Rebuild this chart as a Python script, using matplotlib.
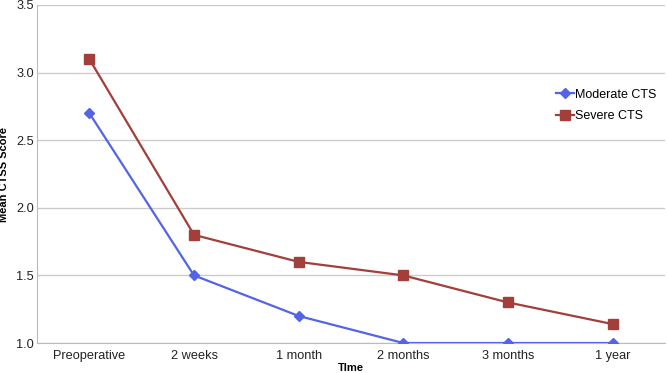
import matplotlib
matplotlib.use("Agg")
import matplotlib.pyplot as plt

categories = ["Preoperative", "2 weeks", "1 month", "2 months", "3 months", "1 year"]
moderate = [2.7, 1.5, 1.2, 1.0, 1.0, 1.0]
severe = [3.1, 1.8, 1.6, 1.5, 1.3, 1.14]
yticks = [1.0, 1.5, 2.0, 2.5, 3.0, 3.5]

plt.rcParams['font.family'] = ['Liberation Sans', 'DejaVu Sans']

fig = plt.figure(figsize=(6.67, 3.73), dpi=100)
ax = fig.add_axes([0.0555, 0.0804, 0.9415, 0.9062])

x = list(range(len(categories)))
ax.plot(x, moderate, color="#5464E6", marker="D", markersize=5, linewidth=1.6,
        label="Moderate CTS", zorder=3)
ax.plot(x, severe, color="#A23F3A", marker="s", markersize=6.5, linewidth=1.6,
        label="Severe CTS", zorder=3)

ax.set_xlim(-0.5, len(categories) - 0.5)
ax.set_ylim(1.0, 3.5)
ax.set_yticks(yticks)
ax.set_yticklabels([f"{v:.1f}" for v in yticks])
ax.set_xticks(x)
ax.set_xticklabels(categories)
ax.tick_params(axis="both", length=0, labelsize=9.2, colors="#222222")
ax.tick_params(axis="x", pad=5)
ax.tick_params(axis="y", pad=2)

ax.grid(axis="y", color="#cccccc", linewidth=1)
ax.set_axisbelow(True)
for s in ["top", "right"]:
    ax.spines[s].set_visible(False)
ax.spines["left"].set_color("#bbbbbb")
ax.spines["bottom"].set_color("#bbbbbb")

ax.set_xlabel("TIme", fontsize=8, fontweight="bold", labelpad=1)
ax.set_ylabel("Mean CTSS Score", fontsize=8, fontweight="bold")
ax.yaxis.set_label_coords(-0.044, 0.5)

leg = ax.legend(loc="upper left", bbox_to_anchor=(0.818, 0.767), frameon=False,
                fontsize=9, handlelength=1.45, handletextpad=0.1,
                labelspacing=0.75, borderaxespad=0)

fig.savefig("out.png", dpi=100)
